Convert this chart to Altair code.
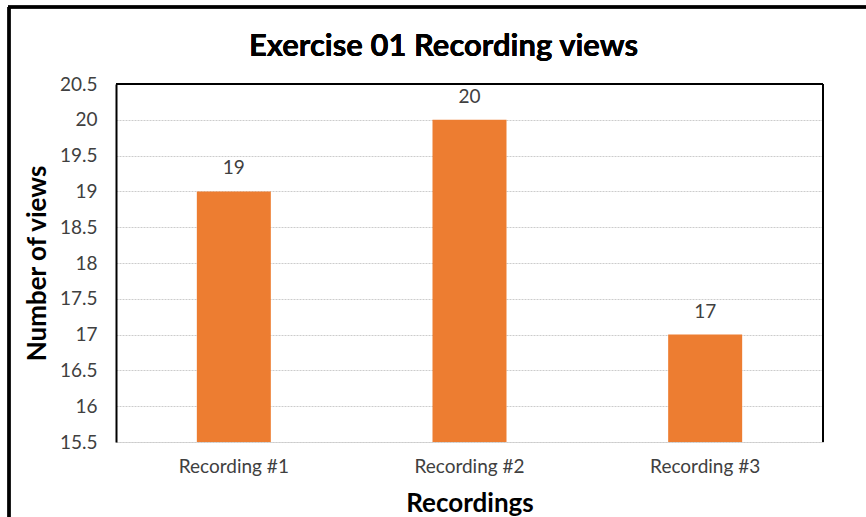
import altair as alt
import pandas as pd

# Views per recording
recordings = ["Recording #1", "Recording #2", "Recording #3"]
views = [19, 20, 17]

# Y axis ticks
y_ticks = [15.5, 16, 16.5, 17, 17.5, 18, 18.5, 19, 19.5, 20, 20.5]
y_min, y_max = 15.5, 20.5

chart_title = "Exercise 01 Recording views"

df = pd.DataFrame({"recording": recordings, "views": views})

W, H = 707, 358
FONT = "Lato"
BAR_COLOR = "#ED7D31"
TEXT_GREY = "#404040"

x_scale = alt.Scale(paddingInner=0.686, paddingOuter=0.343)
y_scale = alt.Scale(domain=[y_min, y_max], zero=False, nice=False)

bars = alt.Chart(df).mark_bar(color=BAR_COLOR).encode(
    x=alt.X(
        "recording:N",
        sort=recordings,
        scale=x_scale,
        axis=alt.Axis(
            title="Recordings",
            titleFont=FONT, titleFontSize=26, titleFontWeight="bold", titleColor="#000000",
            titleX=W / 2, titleY=61, titleBaseline="middle", titleAnchor="middle",
            labelFont=FONT, labelFontSize=19, labelColor=TEXT_GREY, labelPadding=15,
            labelAngle=0, ticks=False, domain=False, grid=False,
        ),
    ),
    y=alt.Y(
        "views:Q",
        scale=y_scale,
        axis=alt.Axis(
            values=y_ticks,
            tickCount=len(y_ticks),
            labelExpr="toString(datum.value)",
            labelOverlap=False,
            title="Number of views",
            titleFont=FONT, titleFontSize=26, titleFontWeight="bold", titleColor="#000000",
            titleX=-79, titleY=H / 2, titleAngle=-90, titleBaseline="middle", titleAnchor="middle",
            labelFont=FONT, labelFontSize=19, labelColor=TEXT_GREY, labelPadding=19,
            labelBaseline="middle",
            ticks=False,
            domain=True, domainColor="#000000", domainWidth=2,
            grid=True, gridColor="#CCCCCC", gridDash=[2, 1], gridWidth=1,
        ),
    ),
    y2=alt.datum(y_min),
)

labels = alt.Chart(df).mark_text(
    font=FONT, fontSize=19, color=TEXT_GREY, baseline="middle", dy=-23
).encode(
    x=alt.X("recording:N", sort=recordings, scale=x_scale),
    y=alt.Y("views:Q", scale=y_scale),
    text=alt.Text("views:Q"),
)

# Chart heading, placed above the plot area
heading = alt.Chart(df).mark_text(
    font=FONT, fontSize=31, fontWeight="bold", color="#000000",
    baseline="middle", align="center", clip=False,
).encode(
    x=alt.value(W / 2 - 26), y=alt.value(-37), text=alt.value(chart_title)
)

# Plot-area frame: top and right edges
frame_top = alt.Chart(df).mark_rule(color="#000000", strokeWidth=2, clip=False).encode(
    x=alt.value(0), x2=alt.value(W), y=alt.value(0)
)
frame_right = alt.Chart(df).mark_rule(color="#000000", strokeWidth=2, clip=False).encode(
    x=alt.value(W), y=alt.value(0), y2=alt.value(H)
)

# Outer chart border
outer_left = alt.Chart(df).mark_rule(color="#000000", strokeWidth=3, clip=False).encode(
    x=alt.value(-107), y=alt.value(-77), y2=alt.value(H + 100)
)
outer_top = alt.Chart(df).mark_rule(color="#000000", strokeWidth=3, clip=False).encode(
    x=alt.value(-108), x2=alt.value(W + 100), y=alt.value(-77)
)

chart = alt.layer(
    bars, labels, heading, frame_top, frame_right, outer_left, outer_top
).properties(
    width=W,
    height=H,
    autosize=alt.AutoSizeParams(type="none"),
    padding={"left": 116, "top": 84, "right": 43, "bottom": 75},
).configure_view(
    stroke=None
).configure_axisY(
    tickCount=len(y_ticks)
).configure(background="#FFFFFF")

chart.save("out.html", embed_options={"renderer": "svg", "actions": False})
